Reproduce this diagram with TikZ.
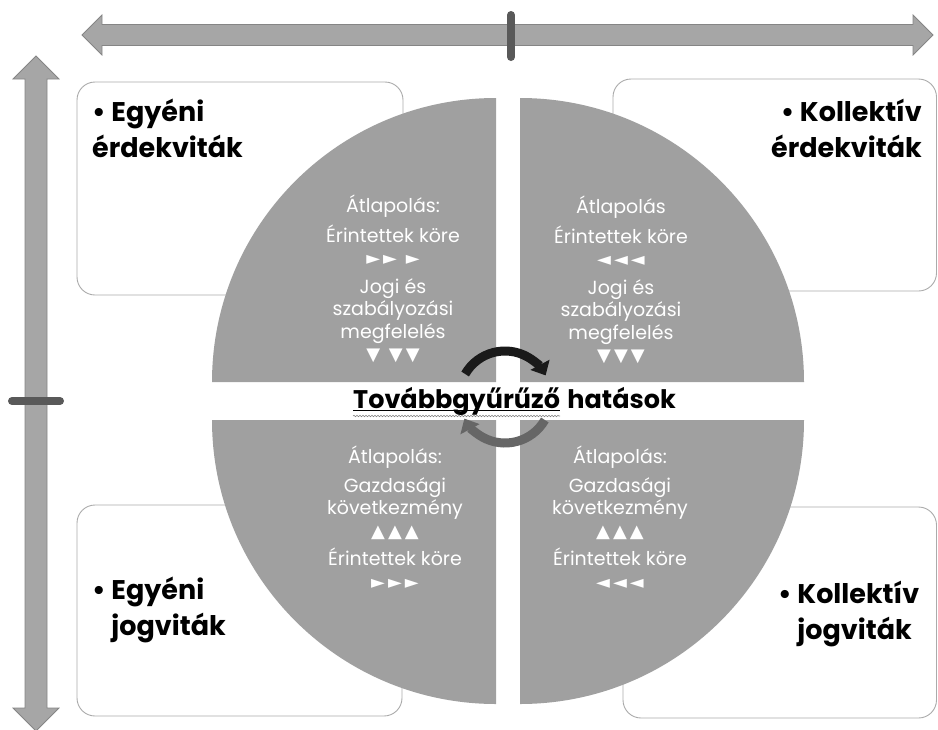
\documentclass[tikz,border=0pt]{standalone}
\usepackage{fontspec}
\setmainfont{Poppins}
\newfontfamily\trifont{DejaVu Sans}
\usetikzlibrary{arrows.meta,positioning,decorations.pathmorphing}
\definecolor{piegray}{HTML}{A0A0A0}
\definecolor{axisgray}{HTML}{A6A6A6}
\definecolor{axisline}{HTML}{858585}
\definecolor{tickgray}{HTML}{595959}
\definecolor{boxline}{HTML}{ABABAB}
\definecolor{swirldark}{HTML}{1A1A1A}
\definecolor{swirlgray}{HTML}{666666}
\tikzstyle{quarter}=[fill=piegray]
\tikzstyle{field}=[draw=boxline,line width=0.9pt,rounded corners=18pt,fill=white]
\tikzstyle{corner}=[font=\bfseries\fontsize{27}{36}\selectfont,text=black,inner sep=0pt]
\tikzstyle{overlap}=[font=\fontsize{19}{22.5}\selectfont,text=white,align=center,inner sep=0pt]
\tikzstyle{axis}=[fill=axisgray,draw=axisline,line width=0.8pt]
\tikzstyle{axistick}=[draw=tickgray,line width=8pt,line cap=round]
\tikzstyle{swirl}=[line width=9pt,-{Triangle[width=21pt,length=12pt]}]
\tikzstyle{ripple}=[font=\bfseries\fontsize{25.5}{28}\selectfont,inner sep=0pt]
\newcommand{\tri}[1]{{\trifont\fontsize{18}{18}\selectfont #1}}

\begin{document}
\begin{tikzpicture}[x=1pt,y=1pt]
\useasboundingbox (0,0) rectangle (938,-729);

% axes
\draw[axis] (82,-35) -- (102,-15) -- (102,-24.5) -- (913,-24.5) -- (913,-15) -- (933,-35)
    -- (913,-55) -- (913,-45.5) -- (102,-45.5) -- (102,-55) -- cycle;
\draw[axis] (36,-56) -- (59,-79) -- (47,-79) -- (47,-708) -- (59,-708) -- (36,-731)
    -- (13,-708) -- (25,-708) -- (25,-79) -- (13,-79) -- cycle;
\draw[axistick] (511,-15) -- (511,-57);
\draw[axistick] (12,-401) -- (60,-401);

% boxes behind the pie
\draw[field] (77,-82) rectangle (403,-295);
\draw[field] (613,-79) rectangle (936.5,-291);
\draw[field] (77,-505) rectangle (402,-716);
\draw[field] (623,-507) rectangle (936.5,-718);

% pie
\fill[quarter] (496,-382) -- (212,-382) arc[start angle=180,end angle=90,radius=284] -- cycle;
\fill[quarter] (520,-382) -- (520,-98) arc[start angle=90,end angle=0,radius=284] -- cycle;
\fill[quarter] (496,-420) -- (212,-420) arc[start angle=180,end angle=270,radius=284] -- cycle;
\fill[quarter] (520,-420) -- (804,-420) arc[start angle=0,end angle=-90,radius=284] -- cycle;

\node[corner,align=left,anchor=base west] (egyerd) at (92,-157) {\textbullet\ Egyéni\\érdekviták};
\node[corner,align=right,anchor=base east] (kollerd) at (922,-157) {\textbullet\ Kollektív\\érdekviták};
\node[corner,align=left,anchor=base west] (egyjog) at (92,-635) {\textbullet\ Egyéni\\\phantom{\textbullet\ }jogviták};
\node[corner,align=left,anchor=base west] (kolljog) at (778,-639) {\textbullet\ Kollektív\\\phantom{\textbullet\ }jogviták};

\node[overlap,anchor=north] (tlq) at (393,-195) {Átlapolás:\\[6pt]Érintettek köre\\\tri{►\,►\ \,►}\\[6pt]Jogi és\\szabályozási\\megfelelés\\\tri{▼\ \,▼\,▼}};
\node[overlap,anchor=north] (trq) at (621,-196) {Átlapolás\\[6pt]Érintettek köre\\\tri{◄\,◄\,◄}\\[6pt]Jogi és\\szabályozási\\megfelelés\\\tri{▼\,▼\,▼}};
\node[overlap,anchor=north] (blq) at (395,-446) {Átlapolás:\\[6pt]Gazdasági\\következmény\\\tri{▲\,▲\,▲}\\[6pt]Érintettek köre\\\tri{►\,►\,►}};
\node[overlap,anchor=north] (brq) at (620,-446) {Átlapolás:\\[6pt]Gazdasági\\következmény\\\tri{▲\,▲\,▲}\\[6pt]Érintettek köre\\\tri{◄\,◄\,◄}};

% circular arrows
\coordinate (hub) at (505,-397);
\draw[swirl,draw=swirldark] (hub) ++(150:46) arc[start angle=150,end angle=28,radius=46];
\draw[swirl,draw=swirlgray] (hub) ++(-30:46) arc[start angle=-30,end angle=-152,radius=46];

\node[ripple,anchor=base west] (tov) at (353,-408) {Továbbgyűrűző};
\node[ripple,base right=7pt of tov] (hat) {hatások};
\draw[line width=1pt] ([yshift=-2.5pt]tov.base west) -- ([yshift=-2.5pt]tov.base east);
\draw[gray,line width=0.6pt,decorate,decoration={snake,amplitude=0.7pt,segment length=3pt}]
    ([yshift=-8pt]tov.base west) -- ([yshift=-8pt]tov.base east);
%\draw[red] (hub) circle (46);
\end{tikzpicture}
\end{document}
